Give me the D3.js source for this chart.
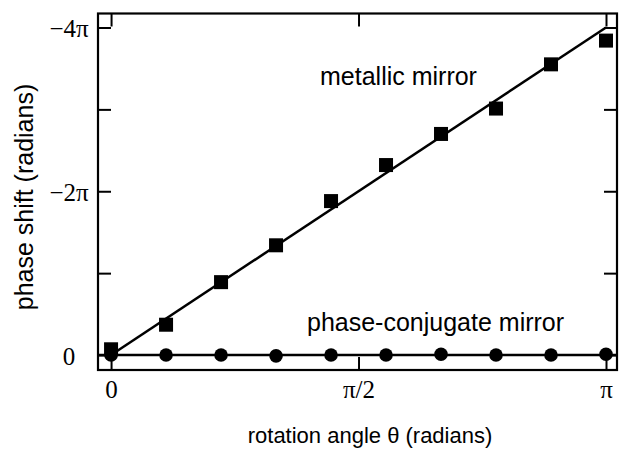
<!DOCTYPE html>
<html>
<head>
<meta charset="utf-8">
<script src="https://cdn.jsdelivr.net/npm/d3@7/dist/d3.min.js"></script>
<style>
  html, body { margin: 0; padding: 0; background: #fff; }
  svg { display: block; }
</style>
</head>
<body>
<svg id="chart" width="621" height="451"></svg>
<script>
// ---- data (angles in degrees, phase shift in units of π) ----
const thetaDeg = [0, 20, 40, 60, 80, 100, 120, 140, 160, 180];
const metallicPhase = [-0.07, -0.37, -0.89, -1.34, -1.88, -2.32, -2.70, -3.01, -3.55, -3.84];
const conjugatePhase = [0.00, 0.00, 0.00, 0.01, 0.00, 0.00, -0.01, 0.00, 0.00, -0.01];
// fitted lines
const metallicFitTheta = [0, 180];
const metallicFitPhase = [0, -4];
const conjugateFitTheta = [-4.8, 184.1];
const conjugateFitPhase = [0, 0];
// ticks
const xTickValues = [0, 90, 180];
const xTickLabels = ["0", "π/2", "π"];
const yTickValues = [0, -1, -2, -3, -4];
const yTickLabels = ["0", "", "−2π", "", "−4π"];

// ---- layout ----
const svg = d3.select("#chart");
const L = 98, R = 617, T = 13.5, B = 370;

const x = d3.scaleLinear().domain([-4.75, 184.0]).range([L, R]);
const y = d3.scaleLinear().domain([0.183, -4.171]).range([B, T]);

const serif = "'Liberation Serif', 'Times New Roman', Times, serif";
const sans = "'Liberation Sans', Arial, Helvetica, sans-serif";

// axes (ticks inward)
const tickLen = 13;
const gB = svg.append("g").attr("transform", `translate(0,${B})`)
  .call(d3.axisBottom(x).tickValues(xTickValues).tickSize(-tickLen).tickPadding(10)
    .tickFormat((d, i) => xTickLabels[i]));
const gT = svg.append("g").attr("transform", `translate(0,${T})`)
  .call(d3.axisTop(x).tickValues(xTickValues).tickSize(-tickLen).tickFormat(""));
const gL = svg.append("g").attr("transform", `translate(${L},0)`)
  .call(d3.axisLeft(y).tickValues(yTickValues).tickSize(-tickLen)
    .tickFormat((d, i) => yTickLabels[i]));
const gR = svg.append("g").attr("transform", `translate(${R},0)`)
  .call(d3.axisRight(y).tickValues(yTickValues).tickSize(-tickLen).tickFormat(""));

[gB, gT, gL, gR].forEach(g => {
  g.select(".domain").remove();
  g.selectAll(".tick line").attr("stroke", "#000").attr("stroke-width", 2);
  g.selectAll(".tick text").attr("fill", "#000")
    .style("font-family", serif).style("font-size", "25px");
});
gL.selectAll(".tick text").attr("text-anchor", "middle").attr("x", -29).attr("dy", "0.36em");

// frame
svg.append("rect")
  .attr("x", x.range()[0]).attr("y", y.range()[1])
  .attr("width", x.range()[1] - x.range()[0])
  .attr("height", y.range()[0] - y.range()[1])
  .attr("fill", "none").attr("stroke", "#000").attr("stroke-width", 2.2);

// fit lines
const line = d3.line().x(d => x(d[0])).y(d => y(d[1]));
svg.append("path")
  .attr("d", line(d3.zip(metallicFitTheta, metallicFitPhase)))
  .attr("fill", "none").attr("stroke", "#000").attr("stroke-width", 2.5);
svg.append("path")
  .attr("d", line(d3.zip(conjugateFitTheta, conjugateFitPhase)))
  .attr("fill", "none").attr("stroke", "#000").attr("stroke-width", 2.5);

// markers
const sq = 14;
svg.append("g").selectAll("rect")
  .data(d3.zip(thetaDeg, metallicPhase))
  .join("rect")
  .attr("x", d => x(d[0]) - sq / 2).attr("y", d => y(d[1]) - sq / 2)
  .attr("width", sq).attr("height", sq).attr("fill", "#000");

svg.append("g").selectAll("circle")
  .data(d3.zip(thetaDeg, conjugatePhase))
  .join("circle")
  .attr("cx", d => x(d[0])).attr("cy", d => y(d[1]))
  .attr("r", 6.8).attr("fill", "#000");

// annotations
svg.append("text").attr("x", 320).attr("y", 85)
  .style("font-family", sans).style("font-size", "25px").text("metallic mirror");
svg.append("text").attr("x", 307).attr("y", 331)
  .style("font-family", sans).style("font-size", "25px").text("phase-conjugate mirror");

// axis titles
svg.append("text").attr("x", 370).attr("y", 443).attr("text-anchor", "middle")
  .style("font-family", sans).style("font-size", "22px").text("rotation angle θ (radians)");
svg.append("text").attr("transform", "translate(33,197) rotate(-90)").attr("text-anchor", "middle")
  .style("font-family", sans).style("font-size", "25px").text("phase shift (radians)");
</script>
</body>
</html>
